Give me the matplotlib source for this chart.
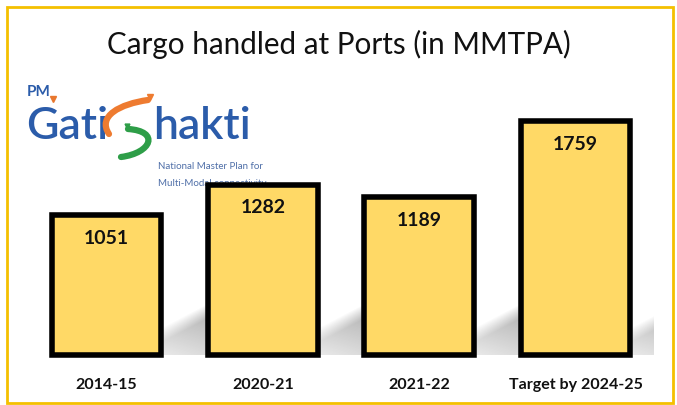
import numpy as np
import matplotlib
matplotlib.use('Agg')
import matplotlib.pyplot as plt
from matplotlib.patches import Rectangle, PathPatch
from matplotlib.path import Path

plt.rcParams['font.family'] = ['Lato', 'DejaVu Sans']

# Data
years = ['2014-15', '2020-21', '2021-22', 'Target by 2024-25']
cargo = [1051, 1282, 1189, 1759]

bar_color = '#FFD966'
logo_blue = '#2B5CAA'
W, H = 677, 405


def fx(x):
    return x / W


def fy(y):
    return 1 - y / H


fig = plt.figure(figsize=(6.77, 4.05), dpi=100)
ax = fig.add_axes([28.35 / W, 1 - 355.25 / H, 625.3 / W, 266 / H])
ax.set_xlim(-0.5, 3.5)
ax.set_ylim(0, 2000)

width = 0.70
x = np.arange(len(cargo))

# soft grey shadows cast to the right of each bar
nx, ny = 80, 60
U, V = np.meshgrid(np.linspace(0, 1, nx), np.linspace(0, 1, ny))
top = 0.45 + 0.5 * U
a = np.clip((top - V) / 0.25, 0, 1) * (0.45 + 0.55 * np.clip(V / top, 0, 1))
a = a * (0.55 + 0.45 * U) * 0.6
shade = np.zeros((ny, nx, 4))
shade[..., :3] = 0.42
shade[..., 3] = a
for xi in x:
    r = xi + width / 2
    ax.imshow(shade, extent=[r, r + 0.36, 0, 450], origin='lower',
              aspect='auto', interpolation='bilinear', zorder=1)

ax.bar(x, cargo, width=width, color=bar_color, edgecolor='black',
       linewidth=4, zorder=3, clip_on=False)

for xi, v in zip(x, cargo):
    ax.annotate(str(v), (xi, v), xytext=(0, -23), textcoords='offset pixels',
                ha='center', va='center', fontsize=14, fontweight='bold',
                color='#111111', zorder=4)

ax.set_xlim(-0.5, 3.5)
ax.set_ylim(0, 2000)
ax.set_xticks(x)
ax.set_xticklabels(years, fontsize=11.5, fontweight='bold', color='#111111')
ax.tick_params(axis='x', length=0, pad=16.5)
ax.set_yticks([])
for s in ax.spines.values():
    s.set_visible(False)
ax.patch.set_visible(False)

# title
fig.text(0.5, fy(44), 'Cargo handled at Ports (in MMTPA)', ha='center',
         va='center', fontsize=21.3, color='#111111')

# logo (drawn under the bars)
tf = fig.transFigure
ax.text(fx(27), fy(96), 'PM', transform=tf, fontsize=11, fontweight='bold',
        color=logo_blue, ha='left', va='baseline', zorder=0, clip_on=False)
ax.plot([fx(53)], [fy(99)], marker='v', markersize=4, color='#E8772E',
        transform=tf, clip_on=False, zorder=0)
ax.text(fx(26), fy(139), 'Gati', transform=tf, fontsize=32,
        fontweight='semibold', color=logo_blue, ha='left', va='baseline',
        zorder=0, clip_on=False)
ax.text(fx(153), fy(139), 'hakti', transform=tf, fontsize=32,
        fontweight='semibold', color=logo_blue, ha='left', va='baseline',
        zorder=0, clip_on=False)

orange = Path([(fx(148), fy(100)), (fx(120), fy(104)), (fx(97), fy(116)),
               (fx(109), fy(134))],
              [Path.MOVETO, Path.CURVE4, Path.CURVE4, Path.CURVE4])
green = Path([(fx(128), fy(129)), (fx(160), fy(131)), (fx(152), fy(153)),
              (fx(121), fy(157))],
             [Path.MOVETO, Path.CURVE4, Path.CURVE4, Path.CURVE4])
ax.add_patch(PathPatch(orange, transform=tf, fill=False, edgecolor='#EE7B30',
                       linewidth=4.5, capstyle='round', zorder=0,
                       clip_on=False))
ax.add_patch(PathPatch(green, transform=tf, fill=False, edgecolor='#2E9E48',
                       linewidth=4.5, capstyle='round', zorder=0,
                       clip_on=False))
ax.plot([fx(150)], [fy(97)], marker='v', markersize=4, color='#EE7B30',
        transform=tf, clip_on=False, zorder=0)
ax.plot([fx(127)], [fy(126)], marker='v', markersize=3.5, color='#2E9E48',
        transform=tf, clip_on=False, zorder=0)

ax.text(fx(158), fy(169), 'National Master Plan for', transform=tf,
        fontsize=7, color='#4F6FA8', ha='left', va='baseline', zorder=0,
        clip_on=False)
ax.text(fx(158), fy(186), 'Multi-Modal connectivity', transform=tf,
        fontsize=7, color='#4F6FA8', ha='left', va='baseline', zorder=0,
        clip_on=False)

# yellow frame
fig.patches.append(Rectangle((fx(7), fy(403)), fx(673) - fx(7),
                             fy(7) - fy(403), transform=tf, fill=False,
                             edgecolor='#F4C000', linewidth=2, zorder=10))

fig.savefig('out.png', dpi=100)
